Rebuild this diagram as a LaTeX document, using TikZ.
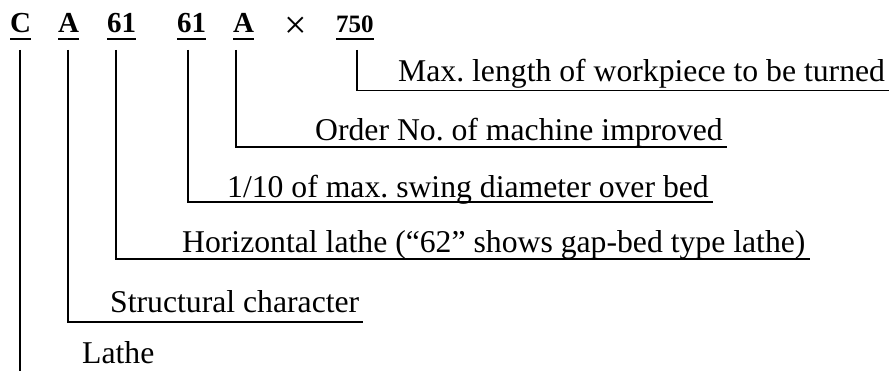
\documentclass[tikz,border=0pt]{standalone}
\usepackage{fontspec}
\setmainfont{Liberation Serif}
\frenchspacing
\begin{document}
\begin{tikzpicture}[x=1pt,y=-1pt,
  lbl/.style={anchor=base west, inner sep=0pt, font=\fontsize{31.7}{38}\selectfont},
  codelbl/.style={anchor=base west, inner sep=0pt, font=\fontsize{29}{34}\selectfont\bfseries},
  ln/.style={line width=1.6pt},
  uline/.style={line width=1.6pt}]
\useasboundingbox (0,0) rectangle (893,371);
% top code
\node[codelbl] (cC) at (10,33) {C};
\node[codelbl] (cA) at (58,33) {A};
\node[codelbl] (c61) at (107,33) {61};
\node[codelbl] (c61b) at (177,33) {61};
\node[codelbl] (cA2) at (233,33) {A};
\node[anchor=base west, inner sep=0pt, font=\fontsize{40}{44}\selectfont] (cx) at (284,39) {×};
\node[anchor=base west, inner sep=0pt, font=\fontsize{25}{30}\selectfont\bfseries] (c750) at (336,33) {750};
\foreach \n in {cC,cA,c61,c61b,cA2,c750}
  \draw[uline] ([yshift=-6pt]\n.base west) -- ([yshift=-6pt]\n.base east);
% descriptions
\node[lbl] (t1) at (398,82) {Max. length of workpiece to be turned};
\node[lbl] (t2) at (315,141) {Order No. of machine improved};
\node[lbl] (t3) at (227,198) {1/10 of max. swing diameter over bed};
\node[lbl] (t4) at (182,252) {Horizontal lathe (“62” shows gap-bed type lathe)};
\node[lbl] (t5) at (110,312) {Structural character};
\node[lbl] (t6) at (82,363) {Lathe};
% connector starts
\coordinate (s1) at (357,50);
\coordinate (s2) at (236,50);
\coordinate (s3) at (188,50);
\coordinate (s4) at (116,50);
\coordinate (s5) at (68,50);
\coordinate (s6) at (20,50);
\coordinate (s6e) at (20,371);
\coordinate (h1) at (0,90.7);
\coordinate (h2) at (0,147);
\coordinate (h3) at (0,202);
\coordinate (h4) at (0,259);
\coordinate (h5) at (0,322);
\draw[ln] (s1) |- ([xshift=4pt]t1.east |- h1);
\draw[ln] (s2) |- ([xshift=4pt]t2.east |- h2);
\draw[ln] (s3) |- ([xshift=4pt]t3.east |- h3);
\draw[ln] (s4) |- ([xshift=4pt]t4.east |- h4);
\draw[ln] (s5) |- ([xshift=4pt]t5.east |- h5);
\draw[ln] (s6) -- (s6e);
\end{tikzpicture}
\end{document}
